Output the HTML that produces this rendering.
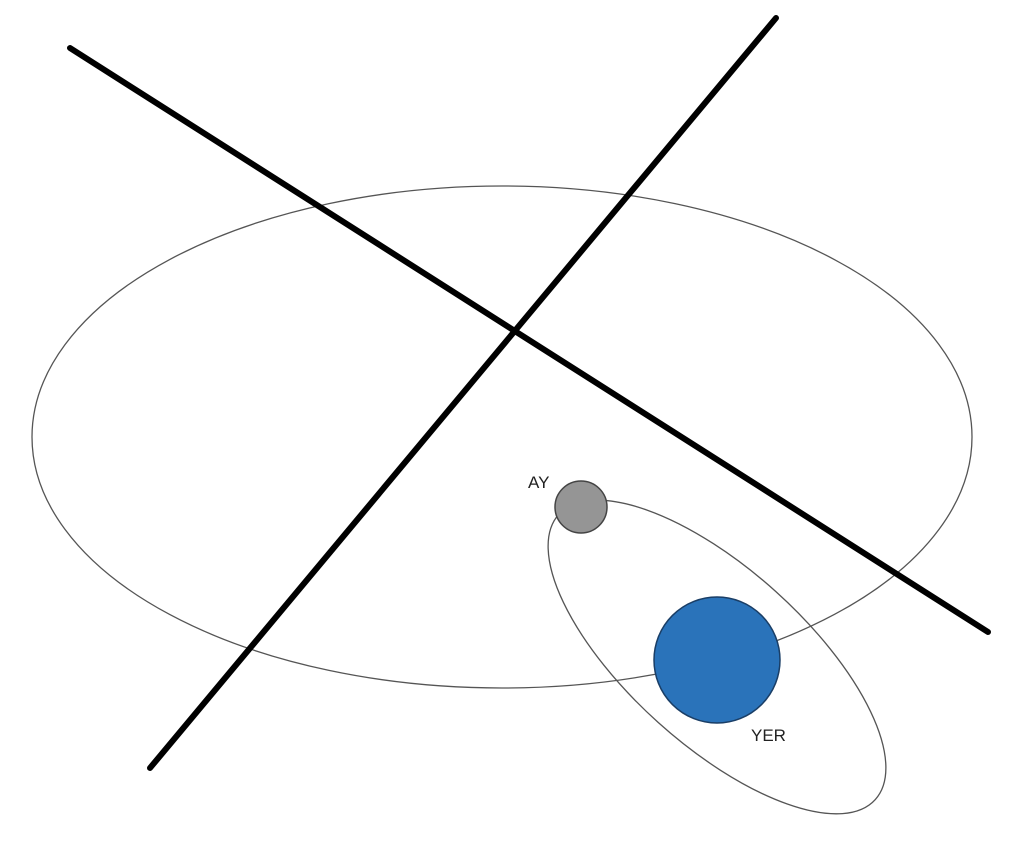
<!DOCTYPE html>
<html><head><meta charset="utf-8"><style>html,body{margin:0;padding:0;background:#fff}svg{display:block}</style></head>
<body>
<svg width="1024" height="850" viewBox="0 0 1024 850" xmlns="http://www.w3.org/2000/svg">
<rect width="1024" height="850" fill="#fff"/>
<ellipse cx="502" cy="437" rx="470" ry="251" fill="none" stroke="#555" stroke-width="1.3"/>
<ellipse cx="717" cy="657" rx="213" ry="88" transform="rotate(42 717 657)" fill="none" stroke="#555" stroke-width="1.3"/>
<line x1="70" y1="48" x2="988" y2="632" stroke="#000" stroke-width="6" stroke-linecap="round"/>
<line x1="776" y1="18" x2="150" y2="768" stroke="#000" stroke-width="6" stroke-linecap="round"/>
<circle cx="581" cy="507" r="26" fill="#959595" stroke="#444" stroke-width="1.5"/>
<circle cx="717" cy="660" r="63" fill="#2a73ba" stroke="#1a3e66" stroke-width="1.5"/>
<text x="528" y="488" font-family="Liberation Sans, sans-serif" font-size="17" fill="#222">AY</text>
<text x="751" y="741" font-family="Liberation Sans, sans-serif" font-size="17" fill="#222">YER</text>
</svg>
</body></html>
